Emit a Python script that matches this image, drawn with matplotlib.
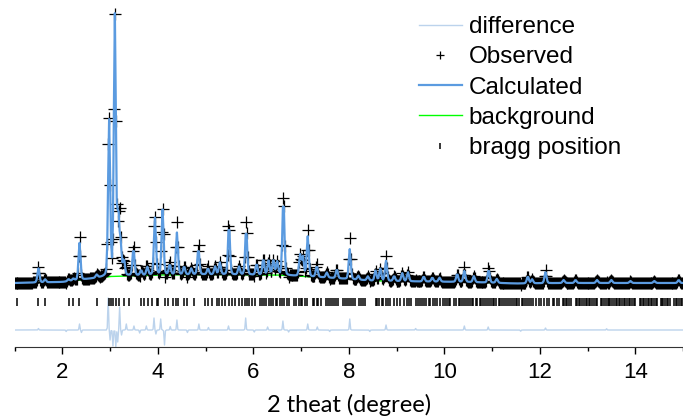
import numpy as np
import matplotlib.pyplot as plt
from matplotlib.ticker import MultipleLocator

# reflections of the calculated pattern: 2theta and height above background (counts)
peak_pos = [1.50, 1.64, 2.13, 2.23, 2.36, 2.72, 2.98, 3.10, 3.17, 3.22, 3.29, 3.49,
            3.65, 3.78, 3.94, 4.10, 4.25, 4.40, 4.55, 4.70, 4.85, 5.05, 5.20, 5.30,
            5.49, 5.70, 5.85, 6.07, 6.21, 6.32, 6.42, 6.50, 6.63, 6.98, 7.04, 7.14,
            7.33, 7.54, 7.75, 8.02, 8.20, 8.40, 8.56, 8.66, 8.78, 8.95, 9.12, 9.24,
            9.57, 9.75, 9.90, 10.27, 10.42, 10.62, 10.93, 11.10, 11.75, 11.84, 12.12,
            12.50, 12.75, 13.20, 13.50, 13.90, 14.40, 14.91]
peak_height = [140, 30, 20, 20, 370, 30, 1550, 2600, 600, 300, 150, 270,
               50, 80, 570, 650, 100, 420, 80, 60, 260, 60, 80, 120,
               500, 80, 460, 110, 160, 140, 140, 130, 770, 210, 190, 400,
               110, 50, 90, 300, 40, 40, 100, 120, 200, 50, 80, 90,
               50, 40, 40, 80, 110, 60, 130, 40, 70, 40, 110,
               30, 30, 30, 30, 20, 20, 30]

# background anchors (2theta, counts)
bg_pos = [1.0, 2.0, 3.0, 4.0, 5.0, 6.0, 6.5, 7.5, 8.5, 9.5, 10.5, 11.5, 12.5, 15.0]
bg_counts = [640, 650, 705, 720, 725, 720, 720, 695, 662, 655, 650, 635, 640, 640]

# where observed and calculated disagree (2theta, counts)
misfit_pos = [1.50, 2.08, 2.36, 2.40, 2.96, 3.00, 3.06, 3.12, 3.16, 3.20, 3.24, 3.34,
              3.50, 3.62, 3.76, 3.92, 3.96, 4.06, 4.14, 4.26, 4.40, 4.62, 4.86, 5.06,
              5.48, 5.84, 6.02, 6.30, 6.62, 6.74, 7.14, 7.34, 7.60, 8.02, 8.44, 8.78,
              9.40, 10.42, 10.92, 11.60, 12.12, 13.40]
misfit_amp = [15, -15, 60, -25, 320, -100, -160, -170, -120, 230, -50, 60,
              40, -30, 40, 120, -40, 110, -150, 35, 100, -25, 60, 25,
              40, 120, -20, 30, 90, -20, 60, 30, -15, 110, -15, 50,
              15, 40, 30, -12, 20, 12]

bragg_pos = [1.04, 1.50, 1.64, 2.13, 2.23, 2.34, 2.72, 2.98, 3.02, 3.07, 3.12, 3.18, 3.29, 3.40,
             3.65, 3.72, 3.79, 3.87, 3.98, 4.01, 4.15, 4.22, 4.31, 4.38, 4.43, 4.54, 4.61,
             4.75, 4.99, 5.06, 5.14, 5.24, 5.29, 5.35, 5.40, 5.49, 5.55, 5.62, 5.70, 5.76,
             5.82, 5.87, 5.90, 5.97, 6.04, 6.14,
             6.18, 6.22, 6.27, 6.33, 6.36, 6.41, 6.47, 6.50, 6.55, 6.61, 6.64, 6.70, 6.75,
             6.86, 6.90, 6.95, 7.00, 7.03, 7.08, 7.13, 7.24, 7.28, 7.33, 7.36, 7.41, 7.52,
             7.56, 7.61, 7.65, 7.70, 7.74, 7.78, 7.87, 7.91, 7.96, 8.00, 8.04, 8.09, 8.13,
             8.21, 8.25, 8.30, 8.34, 8.56, 8.60, 8.64, 8.69, 8.72, 8.77, 8.82, 8.86,
             8.95, 9.02, 9.07, 9.16, 9.21, 9.26, 9.30, 9.40, 9.44, 9.49, 9.53, 9.58, 9.62,
             9.67, 9.71, 9.76, 9.80, 9.84, 9.92, 9.97, 10.01, 10.06, 10.10, 10.13, 10.21,
             10.25, 10.30, 10.33, 10.38, 10.41, 10.46, 10.50, 10.53, 10.58, 10.61, 10.66,
             10.69, 10.74, 10.77, 10.82, 10.85, 10.89, 10.94, 10.97, 11.02, 11.05, 11.09,
             11.14, 11.17, 11.21, 11.26, 11.29, 11.33, 11.38, 11.41, 11.45, 11.50, 11.53,
             11.57, 11.62, 11.65, 11.69, 11.74, 11.77, 11.81, 11.86,
             11.92, 11.99, 12.03, 12.08, 12.16, 12.19, 12.27, 12.30, 12.37, 12.40, 12.48,
             12.51, 12.55, 12.58, 12.62, 12.66, 12.75, 12.78, 12.82, 12.85, 12.89, 12.92,
             12.96, 12.99, 13.03, 13.06, 13.10, 13.13, 13.17, 13.20, 13.28, 13.31, 13.35,
             13.38, 13.42, 13.45, 13.48, 13.52, 13.55, 13.59, 13.62, 13.66, 13.69, 13.72,
             13.76, 13.79, 13.83, 13.86, 13.90, 13.93, 13.97, 14.00, 14.09, 14.12, 14.16,
             14.19, 14.22, 14.26, 14.29, 14.32, 14.36, 14.39, 14.43, 14.46, 14.53, 14.56,
             14.59, 14.63, 14.66, 14.69, 14.73, 14.82, 14.85, 14.88, 14.92, 14.95, 14.98]

step = 0.02
fwhm = 0.05
eta = 0.2
bragg_level = 450
diff_offset = 170

tt = np.arange(1.0, 15.0 + step / 2, step)


def pseudo_voigt(x, w):
    g = np.exp(-4 * np.log(2) * (x / w) ** 2)
    l = 1 / (1 + (2 * x / w) ** 2)
    return eta * l + (1 - eta) * g


background = np.interp(tt, bg_pos, bg_counts)
calc = background.copy()
for p, h in zip(peak_pos, peak_height):
    calc += h * pseudo_voigt(tt - p, fwhm)

misfit = np.zeros_like(tt)
for p, a in zip(misfit_pos, misfit_amp):
    misfit += a * np.exp(-4 * np.log(2) * ((tt - p) / 0.02) ** 2)
obs = calc + misfit
diff = obs - calc + diff_offset

fig = plt.figure(figsize=(6.83, 4.16), dpi=100)
ax = fig.add_axes([14.6 / 683, 69 / 416, 1 - 14.6 / 683, 347 / 416])

l_diff, = ax.plot(tt, diff, color="#bcd3ec", lw=1.0, zorder=1, label="difference")
l_bragg, = ax.plot(bragg_pos, [bragg_level] * len(bragg_pos), "|", color="k", ms=5.5,
                   mew=1.1, zorder=2, label="bragg position")
l_bg, = ax.plot(tt, background, color="#00ff00", lw=1.0, zorder=2, label="background")
l_obs, = ax.plot(tt, obs, "+", color="k", ms=8, mew=0.9, zorder=3, label="Observed")
l_calc, = ax.plot(tt, calc, color="#5b9be0", lw=1.6, zorder=4, label="Calculated")

ax.set_xlim(1, 15)
ax.set_ylim(0, 3470)
ax.xaxis.set_major_locator(MultipleLocator(2))
ax.xaxis.set_minor_locator(MultipleLocator(1))
ax.tick_params(axis="x", which="major", direction="out", length=5, width=1, pad=6,
               labelsize=16, labelfontfamily="Liberation Sans")
ax.tick_params(axis="x", which="minor", direction="out", length=3, width=1)
ax.set_yticks([])
for s in ["left", "right", "top"]:
    ax.spines[s].set_visible(False)
ax.spines["bottom"].set_color("#333333")
ax.set_xlabel("2 theat (degree)", fontsize=17, family="Lato", labelpad=8)

leg = fig.legend(handles=[l_diff, l_obs, l_calc, l_bg, l_bragg], loc="upper left",
                 bbox_to_anchor=(419 / 683, 1 - 16 / 416), frameon=False, borderpad=0,
                 borderaxespad=0, handlelength=1.75, handletextpad=0.3, labelspacing=0.34,
                 markerscale=0.8, prop={"family": "Liberation Sans", "size": 17.5})

fig.savefig("out.png", dpi=100)
